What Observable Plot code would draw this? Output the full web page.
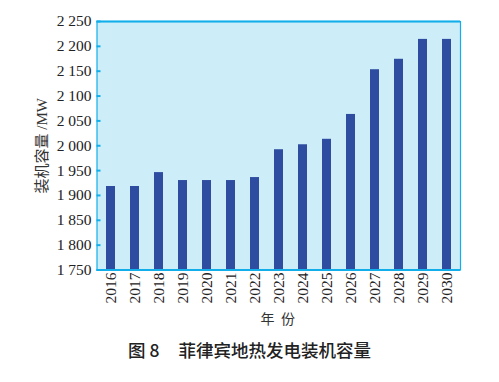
<!DOCTYPE html>
<html>
<head>
<meta charset="utf-8">
<script src="https://cdn.jsdelivr.net/npm/d3@7"></script>
<script src="https://cdn.jsdelivr.net/npm/@observablehq/plot@0.6"></script>
<style>
  body { margin: 0; background: #fff; }
  #wrap { position: relative; width: 499px; height: 382px; }
  #chart svg text { font-family: "Liberation Serif", "Noto Sans CJK SC", serif; }
  #chart svg text.cjk, #chart svg .cjk text { font-family: "Noto Sans CJK SC", sans-serif; }
  #caption { position: absolute; left: 0; top: 337px; width: 499px; text-align: center;
    font-family: "Noto Sans CJK SC", sans-serif; font-size: 17.5px; font-weight: 500; color: #222; white-space: pre; line-height: 26px; }
</style>
</head>
<body>
<div id="wrap"><div id="chart"></div><div id="caption">图 8<span style="display:inline-block;width:19px"></span>菲律宾地热发电装机容量</div></div>
<script>
const years = ["2016","2017","2018","2019","2020","2021","2022","2023","2024","2025","2026","2027","2028","2029","2030"];
const capacity = [1918,1918,1946,1930,1930,1930,1936,1992,2002,2013,2063,2153,2174,2214,2214];
const yTicks = [1750,1800,1850,1900,1950,2000,2050,2100,2150,2200,2250];
const yLabel = "装机容量 /MW";
const xLabel = "年  份";

const data = years.map((y, i) => ({year: y, value: capacity[i]}));
const fmt = d3.formatLocale({decimal: ".", thousands: " ", grouping: [3], currency: ["", ""]}).format(",");
const edge = "#12aeea";

const chart = Plot.plot({
  width: 499,
  height: 330,
  marginLeft: 96.5,
  marginRight: 39,
  marginTop: 21,
  marginBottom: 60.5,
  style: {fontSize: "15.5px", color: "#222", background: "transparent"},
  x: {domain: years, paddingInner: 0.63, paddingOuter: 0.35, label: null},
  y: {domain: [1750, 2250], label: null},
  marks: [
    Plot.frame({fill: "#cdeef9", stroke: edge, strokeWidth: 1.2}),
    Plot.barY(data, {x: "year", y1: 1750, y2: "value", fill: "#2f4da0"}),
    Plot.ruleY([1750, 2250], {stroke: edge, strokeWidth: 2.2}),
    Plot.axisY(yTicks, {tickSize: -4, tickFormat: () => "", stroke: edge, strokeWidth: 2, label: null}),
    Plot.axisY(yTicks, {tickSize: 0, tickPadding: 5.5, tickFormat: fmt, fill: "#222", fontSize: 15.5, label: null}),
    Plot.axisX({tickSize: 0, tickPadding: 2.5, tickRotate: -90, fill: "#222", fontSize: 15.5, label: null}),
    Plot.text([yLabel], {frameAnchor: "middle", dx: -237, rotate: -90, fontSize: 15, fill: "#333"}),
    Plot.text([xLabel], {frameAnchor: "middle", dx: -1, dy: 174, fontSize: 14, fill: "#333", className: "cjk"})
  ]
});
document.getElementById("chart").appendChild(chart);
</script>
</body>
</html>
